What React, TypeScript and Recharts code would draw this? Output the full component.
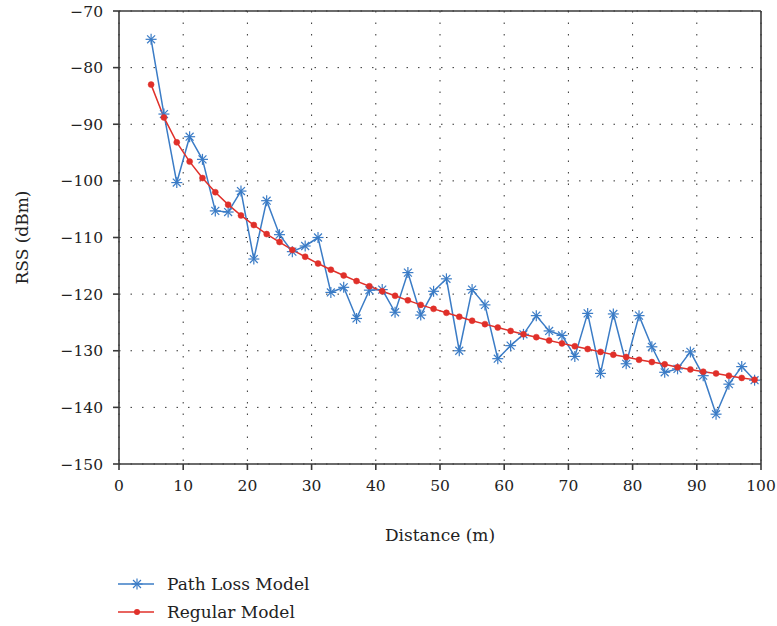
import React from 'react';
import {
  LineChart, Line, XAxis, YAxis, CartesianGrid, Legend, ReferenceLine
} from 'recharts';

// distances (m) and the two RSS series
const distance = [
  5, 7, 9, 11, 13, 15, 17, 19, 21, 23, 25, 27, 29, 31, 33, 35, 37, 39, 41, 43, 45, 47, 49, 51,
  53, 55, 57, 59, 61, 63, 65, 67, 69, 71, 73, 75, 77, 79, 81, 83, 85, 87, 89, 91, 93, 95, 97, 99,
];

const pathLoss = [
  -75.0, -88.2, -100.3, -92.2, -96.2, -105.3, -105.5, -101.8, -113.8, -103.5, -109.5, -112.5,
  -111.5, -110.0, -119.7, -118.8, -124.3, -119.3, -119.2, -123.2, -116.2, -123.7, -119.5, -117.3,
  -130.0, -119.2, -121.9, -131.4, -129.1, -127.1, -123.8, -126.5, -127.3, -131.0, -123.4, -134.0,
  -123.5, -132.3, -123.8, -129.3, -133.8, -133.2, -130.2, -134.4, -141.2, -135.9, -132.8, -135.2,
];

const regular = [
  -83.0, -88.8, -93.2, -96.6, -99.5, -102.0, -104.2, -106.1, -107.8, -109.4, -110.8, -112.2,
  -113.4, -114.6, -115.7, -116.7, -117.7, -118.6, -119.5, -120.3, -121.1, -121.9, -122.6, -123.3,
  -124.0, -124.7, -125.3, -125.9, -126.5, -127.1, -127.6, -128.2, -128.7, -129.2, -129.7, -130.2,
  -130.7, -131.1, -131.6, -132.0, -132.4, -132.9, -133.3, -133.7, -134.0, -134.4, -134.8, -135.1,
];

const xTicks = [0, 10, 20, 30, 40, 50, 60, 70, 80, 90, 100];
const yTicks = [-150, -140, -130, -120, -110, -100, -90, -80, -70];

const data = distance.map((d, i) => ({ d, pathLoss: pathLoss[i], regular: regular[i] }));

const BLUE = '#3b7cc6';
const RED = '#e0302a';
const FONT = '"DejaVu Serif", serif';
const AXIS = '#3a3a3a';

const minus = (v: number) => String(v).replace('-', '\u2212');

// matlab style '*' marker
const Star = (props: any) => {
  const { cx, cy, stroke } = props;
  if (cx == null || cy == null) return null;
  const r = 5.5;
  const k = r * 0.72;
  return (
    <g stroke={stroke || BLUE} strokeWidth={1.2}>
      <line x1={cx - r} y1={cy} x2={cx + r} y2={cy} />
      <line x1={cx} y1={cy - r} x2={cx} y2={cy + r} />
      <line x1={cx - k} y1={cy - k} x2={cx + k} y2={cy + k} />
      <line x1={cx - k} y1={cy + k} x2={cx + k} y2={cy - k} />
    </g>
  );
};

const LegendBox = () => (
  <div style={{ fontFamily: FONT, fontSize: 17, color: '#222' }}>
    <div style={{ display: 'flex', alignItems: 'center', height: 28 }}>
      <svg width={38} height={16}>
        <line x1={0} y1={8} x2={36} y2={8} stroke={BLUE} strokeWidth={1.5} />
        <Star cx={19} cy={8} stroke={BLUE} />
      </svg>
      <span style={{ marginLeft: 11 }}>Path Loss Model</span>
    </div>
    <div style={{ display: 'flex', alignItems: 'center', height: 28 }}>
      <svg width={38} height={16}>
        <line x1={0} y1={8} x2={36} y2={8} stroke={RED} strokeWidth={1.5} />
        <circle cx={19} cy={8} r={3} fill={RED} />
      </svg>
      <span style={{ marginLeft: 11 }}>Regular Model</span>
    </div>
  </div>
);

export default function App() {
  return (
    <div style={{ position: 'absolute', left: 0, top: 0, background: '#fff' }}>
      <LineChart width={777} height={626} data={data} margin={{ top: 11, right: 16, left: 0, bottom: 85 }}>
        <CartesianGrid
          stroke="#333"
          strokeDasharray="1.5 10"
          horizontalValues={yTicks}
          verticalValues={xTicks}
        />
        <XAxis
          type="number"
          dataKey="d"
          domain={[0, 100]}
          ticks={xTicks}
          height={77}
          tickSize={6}
          tickMargin={10}
          stroke={AXIS}
          strokeWidth={1.6}
          tick={{ fontSize: 15.5, fill: '#222', fontFamily: FONT }}
          label={{ value: 'Distance (m)', position: 'insideBottom', offset: 0, fontSize: 17, fill: '#222', fontFamily: FONT }}
        />
        <YAxis
          type="number"
          domain={[-150, -70]}
          ticks={yTicks}
          width={119}
          tickSize={6}
          tickMargin={10}
          stroke={AXIS}
          strokeWidth={1.6}
          tickFormatter={minus}
          tick={{ fontSize: 15.5, fill: '#222', fontFamily: FONT }}
          label={{ value: 'RSS (dBm)', angle: -90, position: 'insideLeft', offset: 22, fontSize: 17, fill: '#222', fontFamily: FONT, style: { textAnchor: 'middle' } }}
        />
        <ReferenceLine y={-70} stroke={AXIS} strokeWidth={1.6} />
        <ReferenceLine x={100} stroke={AXIS} strokeWidth={1.6} />
        <Line
          dataKey="pathLoss"
          stroke={BLUE}
          strokeWidth={1.5}
          dot={<Star stroke={BLUE} />}
          isAnimationActive={false}
        />
        <Line
          dataKey="regular"
          stroke={RED}
          strokeWidth={1.5}
          dot={{ r: 3, fill: RED, stroke: RED, strokeWidth: 0.5 }}
          isAnimationActive={false}
        />
        <Legend
          layout="horizontal"
          verticalAlign="middle"
          align="center"
          content={<LegendBox />}
          wrapperStyle={{ position: 'absolute', left: 118, top: 570, width: 300 }}
        />
      </LineChart>
    </div>
  );
}
